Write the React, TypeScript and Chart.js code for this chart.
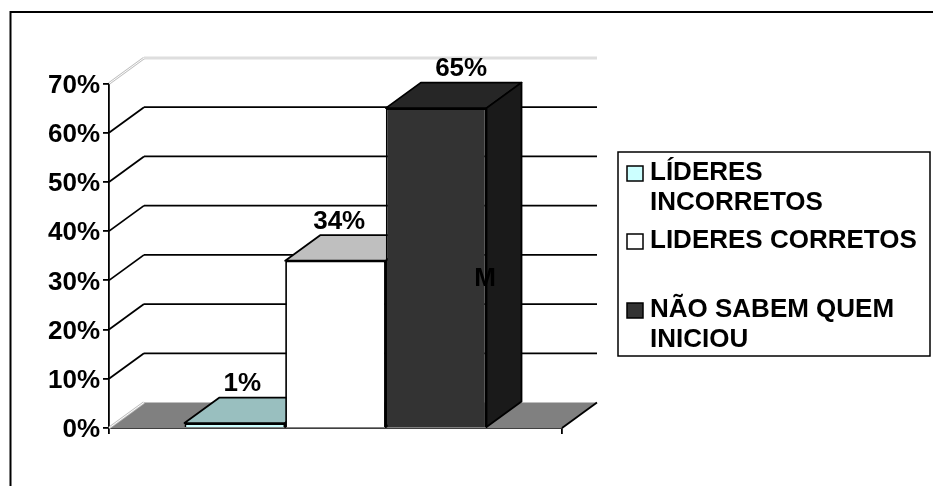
import React, { useEffect, useRef } from "react";
import { Chart, registerables } from "chart.js";

Chart.register(...registerables);

const categories = [""];
const seriesNames = ["LÍDERES INCORRETOS", "LIDERES CORRETOS", "NÃO SABEM QUEM INICIOU"];
const legendLines = [["LÍDERES", "INCORRETOS"], ["LIDERES CORRETOS"], ["NÃO SABEM QUEM", "INICIOU"]];
const seriesValues = [1, 34, 65];
const dataLabels = ["1%", "34%", "65%"];
const strayLabel = "M";
const frontColors = ["#ccffff", "#ffffff", "#333333"];
const topColors = ["#99bfbf", "#bfbfbf", "#262626"];
const sideColors = ["#7a9999", "#999999", "#1a1a1a"];
const gridValues = [10, 20, 30, 40, 50, 60];

const FONT = "bold 26px 'Liberation Sans', Arial, sans-serif";
const DX = 35;
const DY = -25.5;
const LABEL_SHIFT = [7.5, 3.7, 25];
const LEGEND_ROWS = [172, 240, 309];

function poly(ctx: CanvasRenderingContext2D, pts: number[][], fill: string | null, stroke: string | null, lw = 1.8) {
  ctx.beginPath();
  pts.forEach((p, i) => (i ? ctx.lineTo(p[0], p[1]) : ctx.moveTo(p[0], p[1])));
  ctx.closePath();
  if (fill) {
    ctx.fillStyle = fill;
    ctx.fill();
  }
  if (stroke) {
    ctx.strokeStyle = stroke;
    ctx.lineWidth = lw;
    ctx.stroke();
  }
}

function line(ctx: CanvasRenderingContext2D, x1: number, y1: number, x2: number, y2: number, color: string, lw = 1.8) {
  ctx.beginPath();
  ctx.moveTo(x1, y1);
  ctx.lineTo(x2, y2);
  ctx.strokeStyle = color;
  ctx.lineWidth = lw;
  ctx.stroke();
}

function doubleLine(ctx: CanvasRenderingContext2D, x1: number, y1: number, x2: number, y2: number) {
  line(ctx, x1, y1, x2, y2, "#bdbdbd", 2.6);
  line(ctx, x1, y1, x2, y2, "#ffffff", 1);
}

const frame3d = {
  id: "frame3d",
  beforeDatasetsDraw(chart: any) {
    const { ctx, scales, chartArea } = chart;
    const y = scales.y;
    const l = chartArea.left;
    const r = chartArea.right;
    const y0 = y.getPixelForValue(0);
    const yTop = y.getPixelForValue(70);
    ctx.save();
    ctx.lineCap = "butt";
    poly(ctx, [[l, y0], [l + DX, y0 + DY], [r + DX, y0 + DY], [r, y0]], "#808080", null);
    line(ctx, r, y0, r + DX, y0 + DY, "#000000");
    gridValues.forEach((v) => {
      const py = y.getPixelForValue(v);
      line(ctx, l, py, l + DX, py + DY, "#000000");
      line(ctx, l + DX, py + DY, r + DX, py + DY, "#000000");
    });
    doubleLine(ctx, l, yTop, l + DX, yTop + DY);
    doubleLine(ctx, l + DX, yTop + DY, r + DX, yTop + DY);
    doubleLine(ctx, l, y0, l + DX, y0 + DY);
    ctx.restore();
  },
  // The bars are painted left to right below, so that each hides the side of the one before it.
  beforeDatasetDraw() {
    return false;
  },
  afterDatasetsDraw(chart: any) {
    const { ctx, chartArea } = chart;
    seriesNames.forEach((_, i) => {
      const bar = chart.getDatasetMeta(i).data[0];
      const half = bar.width / 2;
      const x1 = bar.x - half;
      const x2 = bar.x + half;
      const t = bar.y;
      const b = bar.base;
      ctx.save();
      ctx.lineJoin = "round";
      poly(ctx, [[x1, t], [x1 + DX, t + DY], [x2 + DX, t + DY], [x2, t]], topColors[i], "#000000");
      poly(ctx, [[x2, t], [x2 + DX, t + DY], [x2 + DX, b + DY], [x2, b]], sideColors[i], "#000000");
      ctx.restore();
      bar.draw(ctx, chartArea);
    });
  },
  afterDraw(chart: any) {
    const { ctx, width, height } = chart;
    const y = chart.scales.y;
    ctx.save();
    // outer frame, open to the right and at the bottom
    ctx.strokeStyle = "#000000";
    ctx.lineWidth = 2;
    ctx.beginPath();
    ctx.moveTo(width, 12);
    ctx.lineTo(10.5, 12);
    ctx.lineTo(10.5, height);
    ctx.stroke();
    // value labels
    ctx.font = FONT;
    ctx.fillStyle = "#000000";
    ctx.textAlign = "center";
    ctx.textBaseline = "alphabetic";
    dataLabels.forEach((txt, i) => {
      const bar = chart.getDatasetMeta(i).data[0];
      ctx.fillText(txt, bar.x + LABEL_SHIFT[i], y.getPixelForValue(seriesValues[i]) + DY - 6.5);
    });
    ctx.fillText(strayLabel, 485, 286);
    // legend
    ctx.lineWidth = 1.5;
    ctx.fillStyle = "#ffffff";
    ctx.fillRect(618, 152, 312, 204);
    ctx.strokeRect(618, 152, 312, 204);
    ctx.textAlign = "left";
    legendLines.forEach((lines, i) => {
      const top = LEGEND_ROWS[i];
      ctx.fillStyle = frontColors[i];
      ctx.fillRect(627, top - 6, 16, 15);
      ctx.strokeRect(627, top - 6, 16, 15);
      ctx.fillStyle = "#000000";
      lines.forEach((s, k) => ctx.fillText(s, 650, top + 8 + k * 30));
    });
    ctx.restore();
  },
};

export default function App() {
  const ref = useRef<HTMLCanvasElement>(null);
  useEffect(() => {
    document.body.style.margin = "0";
    const chart = new Chart(ref.current!, {
      type: "bar",
      data: {
        labels: categories,
        datasets: seriesNames.map((label, i) => ({
          label,
          data: [seriesValues[i]],
          backgroundColor: frontColors[i],
          borderColor: "#000000",
          borderWidth: 1.8,
        })),
      },
      options: {
        animation: false,
        responsive: false,
        maintainAspectRatio: false,
        devicePixelRatio: 1,
        layout: { padding: { left: 0, top: 83.5, right: 371, bottom: 0 } },
        datasets: { bar: { categoryPercentage: 2 / 3, barPercentage: 1 } },
        plugins: { legend: { display: false }, tooltip: { enabled: false }, title: { display: false } },
        scales: {
          x: {
            offset: true,
            border: { display: true, color: "#000000", width: 1.8 },
            grid: { display: true, offset: true, drawOnChartArea: false, drawTicks: true, tickLength: 6, color: "#000000", lineWidth: 1.8 },
            ticks: { display: true, font: { size: 1 }, padding: 0 },
            afterFit: (s: any) => {
              s.height = 58;
            },
          },
          y: {
            min: 0,
            max: 70,
            border: { display: true, color: "#000000", width: 1.8 },
            grid: { display: true, drawOnChartArea: false, drawTicks: true, tickLength: 6, color: "#000000", lineWidth: 1.8 },
            ticks: {
              stepSize: 10,
              padding: 3,
              labelOffset: 2,
              color: "#000000",
              font: { family: "'Liberation Sans', Arial, sans-serif", size: 26, weight: "bold" },
              callback: (v: any) => `${v}%`,
            },
            afterFit: (s: any) => {
              s.width = 109;
            },
          },
        },
      },
      plugins: [frame3d],
    } as any);
    return () => chart.destroy();
  }, []);
  return (
    <div style={{ width: 933, height: 486, position: "relative", background: "#ffffff", overflow: "hidden" }}>
      <canvas ref={ref} width={933} height={486} style={{ display: "block", width: 933, height: 486 }} />
    </div>
  );
}
